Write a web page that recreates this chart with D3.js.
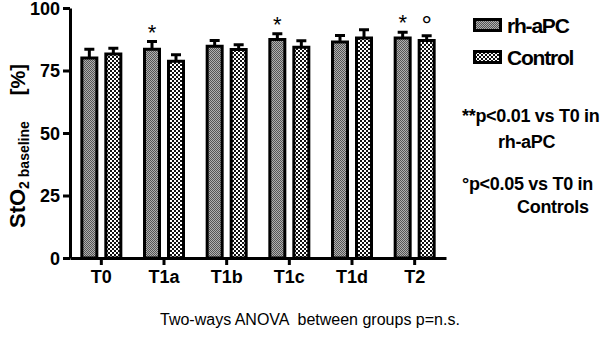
<!DOCTYPE html>
<html>
<head>
<meta charset="utf-8">
<script src="https://cdn.jsdelivr.net/npm/d3@7"></script>
<style>
  body { margin: 0; background: #fff; }
  svg { display: block; font-family: "Liberation Sans", Arial, sans-serif; }
</style>
</head>
<body>
<div id="chart"></div>
<script>
// categories and values
const categories = ["T0", "T1a", "T1b", "T1c", "T1d", "T2"];
const seriesNames = ["rh-aPC", "Control"];
const rhMean = [80, 83.5, 84.7, 87.4, 86.4, 88];
const rhSem = [3.5, 3.1, 2.3, 2.3, 2.6, 2.3];
const ctlMean = [81.6, 78.7, 83.4, 84.3, 88, 87];
const ctlSem = [2.3, 2.6, 1.9, 2.6, 3.3, 1.9];
const yTicks = [0, 25, 50, 75, 100];
// significance marks: category, series index, symbol
const sigMarks = [["T1a", 0, "*"], ["T1c", 0, "*"], ["T2", 0, "*"], ["T2", 1, "°"]];

const width = 600, height = 346;

const svg = d3.select("#chart").append("svg")
  .attr("width", width)
  .attr("height", height);

// patterns: fine grey for rh-aPC, black/white checker for Control
const defs = svg.append("defs");
const p1 = defs.append("pattern").attr("id", "patRh")
  .attr("width", 2).attr("height", 2).attr("patternUnits", "userSpaceOnUse");
p1.append("rect").attr("width", 2).attr("height", 2).attr("fill", "#b0b0b0");
p1.append("rect").attr("width", 1).attr("height", 1).attr("fill", "#555");
p1.append("rect").attr("x", 1).attr("y", 1).attr("width", 1).attr("height", 1).attr("fill", "#555");

const p2 = defs.append("pattern").attr("id", "patCtl")
  .attr("width", 4).attr("height", 4).attr("patternUnits", "userSpaceOnUse");
p2.append("rect").attr("width", 4).attr("height", 4).attr("fill", "#fff");
p2.append("rect").attr("width", 2).attr("height", 2).attr("fill", "#111");
p2.append("rect").attr("x", 2).attr("y", 2).attr("width", 2).attr("height", 2).attr("fill", "#111");

const fills = ["url(#patRh)", "url(#patCtl)"];

const x = d3.scaleBand().domain(categories).range([70, 446]);
const y = d3.scaleLinear().domain([0, 100]).range([258, 8]);
const offsets = [-12, 12];
const barW = 15;

const data = [];
categories.forEach(function (c, i) {
  data.push({ cat: c, s: 0, mean: rhMean[i], sem: rhSem[i] });
  data.push({ cat: c, s: 1, mean: ctlMean[i], sem: ctlSem[i] });
});

function cx(d) {
  return x(d.cat) + x.bandwidth() / 2 + offsets[d.s];
}

// error bars first so the bar outline sits on top
const eb = svg.append("g").attr("stroke", "#000").attr("stroke-width", 3);
eb.selectAll("line.v").data(data).enter().append("line")
  .attr("x1", cx).attr("x2", cx)
  .attr("y1", function (d) { return y(d.mean); })
  .attr("y2", function (d) { return y(d.mean + d.sem); });
eb.selectAll("line.h").data(data).enter().append("line")
  .attr("x1", function (d) { return cx(d) - 5; })
  .attr("x2", function (d) { return cx(d) + 5; })
  .attr("y1", function (d) { return y(d.mean + d.sem); })
  .attr("y2", function (d) { return y(d.mean + d.sem); });

svg.append("g").selectAll("rect").data(data).enter().append("rect")
  .attr("x", function (d) { return cx(d) - barW / 2; })
  .attr("y", function (d) { return y(d.mean); })
  .attr("width", barW)
  .attr("height", function (d) { return y(0) - y(d.mean); })
  .attr("fill", function (d) { return fills[d.s]; })
  .attr("stroke", "#000")
  .attr("stroke-width", 3);

// axes
const yAxis = svg.append("g")
  .attr("transform", "translate(70,0)")
  .call(d3.axisLeft(y).tickValues(yTicks).tickSize(7).tickPadding(3).tickSizeOuter(0));
const xAxis = svg.append("g")
  .attr("transform", "translate(0,258)")
  .call(d3.axisBottom(x).tickSize(7).tickPadding(5).tickSizeOuter(0));

[yAxis, xAxis].forEach(function (g) {
  g.select(".domain").attr("stroke", "#000").attr("stroke-width", 3);
  g.selectAll(".tick line").attr("stroke", "#000").attr("stroke-width", 3);
  g.selectAll(".tick text")
    .attr("fill", "#000")
    .style("font-family", "'Liberation Sans', Arial, sans-serif")
    .style("font-weight", "bold")
    .style("font-size", "18px");
});
yAxis.selectAll(".tick text").attr("dy", "0.36em");

// significance symbols
svg.append("g").selectAll("text").data(sigMarks).enter().append("text")
  .attr("x", function (m) {
    return x(m[0]) + x.bandwidth() / 2 + offsets[m[1]];
  })
  .attr("y", function (m) {
    const i = categories.indexOf(m[0]);
    const top = m[1] === 0 ? rhMean[i] + rhSem[i] : ctlMean[i] + ctlSem[i];
    return y(top) - 2;
  })
  .attr("text-anchor", "middle")
  .style("font-size", function (m) { return m[2] === "*" ? "22px" : "26px"; })
  .text(function (m) { return m[2]; });

// y axis title
const yt = svg.append("text")
  .attr("transform", "translate(25,228) rotate(-90)")
  .attr("text-anchor", "start")
  .style("font-weight", "bold");
yt.append("tspan").style("font-size", "22px").text("StO");
yt.append("tspan").style("font-size", "14px").attr("dy", 4).text("2 baseline");
yt.append("tspan").style("font-size", "20px").attr("dy", -4).attr("dx", 26).text("[%]");

// legend
const legend = svg.append("g").attr("transform", "translate(473,18)");
seriesNames.forEach(function (name, i) {
  const row = legend.append("g").attr("transform", "translate(0," + (i * 32) + ")");
  row.append("rect")
    .attr("x", 1.5).attr("y", 1.5)
    .attr("width", 26).attr("height", 11)
    .attr("fill", fills[i])
    .attr("stroke", "#000").attr("stroke-width", 3);
  row.append("text")
    .attr("x", 34).attr("y", 15)
    .style("font-size", "21px")
    .style("font-weight", "bold")
    .style("letter-spacing", "-1.2px")
    .text(name);
});

// notes on the right
const notes = [
  ["**p<0.01 vs T0 in", 462, 122],
  ["rh-aPC", 498, 148],
  ["°p<0.05 vs T0 in", 462, 190],
  ["Controls", 517, 213]
];
svg.append("g").selectAll("text").data(notes).enter().append("text")
  .attr("x", function (n) { return n[1]; })
  .attr("y", function (n) { return n[2]; })
  .style("font-size", "18px")
  .style("font-weight", "bold")
  .style("letter-spacing", "-0.3px")
  .text(function (n) { return n[0]; });

// footer
svg.append("text")
  .attr("x", 160).attr("y", 325)
  .attr("xml:space", "preserve")
  .style("font-size", "16px")
  .text("Two-ways ANOVA  between groups p=n.s.");
</script>
</body>
</html>
